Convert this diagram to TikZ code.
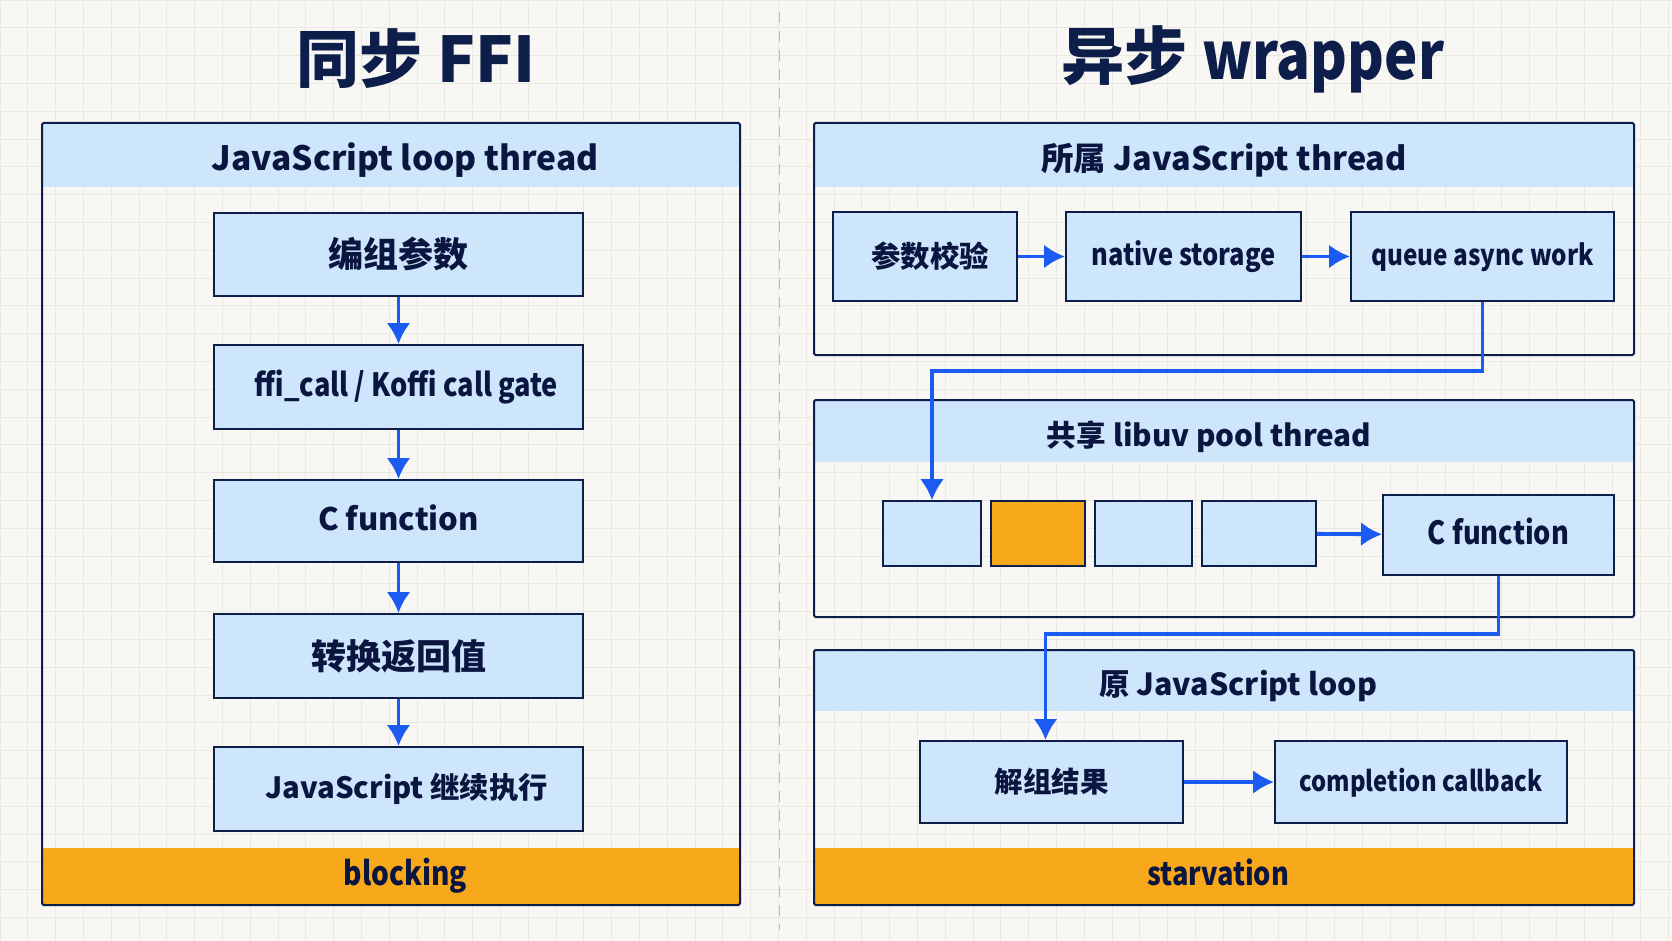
\documentclass[tikz,border=0pt]{standalone}
\usepackage{fontspec}
\setmainfont{Noto Sans CJK SC}
\newfontfamily\narrow{Noto Sans CJK SC}[FakeStretch=0.85]
\usetikzlibrary{positioning,arrows.meta,calc}

\definecolor{paper}{HTML}{F8F7F3}
\definecolor{gridc}{HTML}{EAE8E2}
\definecolor{navy}{HTML}{0E1E4A}
\definecolor{ink}{HTML}{0B1640}
\definecolor{pale}{HTML}{CDE6FB}
\definecolor{amber}{HTML}{F7A81B}
\definecolor{flowblue}{HTML}{1C5BF2}
\definecolor{divider}{HTML}{B4BECB}

% font size helper
\newcommand{\fs}[1]{\fontsize{#1}{#1}\selectfont}

\tikzset{
  panel/.style={draw=navy, line width=2pt, rounded corners=1.5pt},
  hdr/.style={fill=pale, inner sep=0pt, text=ink, text height=34pt, text depth=4pt,
    font=\bfseries\fs{31}},
  band/.style={fill=amber, inner sep=0pt, text=ink, text height=24pt, text depth=6pt,
    font=\bfseries\narrow\fs{32}},
  box/.style={draw=navy, line width=2pt, fill=pale, inner sep=0pt, text=ink,
    text height=24pt, text depth=6pt, font=\bfseries\fs{30}},
  cjkbox/.style={box, text height=33pt, font=\bfseries\fs{35}},
  qcell/.style={draw=navy, line width=1.6pt, fill=pale, inner sep=0pt},
  flow/.style={draw=flowblue, line width=3.8pt, -{Latex[length=21pt,width=24pt]}},
  title/.style={text=navy, font=\bfseries\fs{63}},
}

\begin{document}
\begin{tikzpicture}[x=1pt, y=-1pt]
  % canvas
  \fill[paper] (0,0) rectangle (1672,941);
  \useasboundingbox (0,0) rectangle (1672,941);
  \draw[gridc, line width=0.8pt, step=27.8pt] (0,0) grid (1672,941);
  \draw[divider, line width=1.4pt, dash pattern=on 11pt off 8pt] (779.5,12) -- (779.5,930);

  % titles
  \node[title] (ttl) at (416,59) {同步 FFI};
  \node[title] (ttr) at (1253,59) {异步 {\narrow\fs{66}wrapper}};

  % ---- left: synchronous FFI ----
  \node[hdr, minimum width=698, minimum height=64, anchor=north west, font=\bfseries\fs{33.5}] (lhdr) at (42,123) {\hspace*{28pt}JavaScript loop thread};
  \node[band, minimum width=698, minimum height=57, anchor=north west, font=\bfseries\narrow\fs{33}] (lband) at (42,848) {\hspace*{28pt}blocking};
  \draw[panel] (42,123) rectangle (740,905);

  \node[cjkbox, minimum width=369, minimum height=82] (marshal) at (398.5,254.5) {编组参数};
  \node[box, minimum width=369, minimum height=84, font=\bfseries\narrow\fs{32}] (gate) at (398.5,387) {\hspace*{16pt}ffi\_call / Koffi call gate};
  \node[box, minimum width=369, minimum height=82, font=\bfseries\fs{31}] (cfun) at (398.5,521) {C function};
  \node[cjkbox, minimum width=369, minimum height=84] (convert) at (398.5,656) {转换返回值};
  \node[box, minimum width=369, minimum height=84, font=\bfseries\fs{29.3}] (resume) at (398.5,789) {\hspace*{16pt}JavaScript 继续执行};

  \draw[flow] (marshal) -- (gate);
  \draw[flow] (gate) -- (cfun);
  \draw[flow] (cfun) -- (convert);
  \draw[flow] (convert) -- (resume);

  % ---- right: async wrapper ----
  % owning JS thread
  \node[hdr, minimum width=820, minimum height=64, anchor=north west, font=\bfseries\fs{32.4}] (rhdra) at (814,123) {所属 JavaScript thread};
  \draw[panel] (814,123) rectangle (1634,355);
  \node[box, minimum width=184, minimum height=89, text height=27pt, font=\bfseries\fs{29.4}] (check) at (925,256.5) {\hspace*{10pt}参数校验};
  \node[box, minimum width=235, minimum height=89, font=\bfseries\narrow\fs{30}] (store) at (1183.5,256.5) {native storage};
  \node[box, minimum width=263, minimum height=89, font=\bfseries\narrow\fs{28.6}] (queue) at (1482.5,256.5) {queue async work};
  \draw[flow] (check) -- (store);
  \draw[flow] (store) -- (queue);

  % shared libuv pool
  \node[hdr, minimum width=820, minimum height=62, anchor=north west, font=\bfseries\fs{29.7}] (rhdrb) at (814,400) {\hspace*{-30pt}共享 libuv pool thread};
  \draw[panel] (814,400) rectangle (1634,617);
  \node[qcell, minimum width=98, minimum height=65] (slot1) at (932,533.5) {};
  \node[qcell, fill=amber, minimum width=94, minimum height=65] (slot2) at (1038,533.5) {};
  \node[qcell, minimum width=97, minimum height=65] (slot3) at (1143.5,533.5) {};
  \node[qcell, minimum width=114, minimum height=65] (slot4) at (1259,533.5) {};
  \node[box, minimum width=231, minimum height=80, font=\bfseries\narrow\fs{32}] (work) at (1498.5,535) {C function};
  \draw[flow] (slot4) -- (work);

  % original JS loop
  \node[hdr, minimum width=820, minimum height=61, anchor=north west, font=\bfseries\fs{30.4}] (rhdrc) at (814,650) {\hspace*{28pt}原 JavaScript loop};
  \node[band, minimum width=820, minimum height=57, anchor=north west] (rband) at (814,848) {\hspace*{-12pt}starvation};
  \draw[panel] (814,650) rectangle (1634,905);
  \node[box, minimum width=263, minimum height=82, text height=27pt, font=\bfseries\fs{28.5}] (unpack) at (1051.5,782) {解组结果};
  \node[box, minimum width=292, minimum height=82, font=\bfseries\narrow\fs{28}] (done) at (1421,782) {completion callback};
  \draw[flow] (unpack) -- (done);

  % hand-offs between threads
  \draw[flow] (queue.south) -- ++(0,69) -| (slot1.north);
  \draw[flow] (work.south) -- ++(0,58) -| ([xshift=-6pt]unpack.north);
\end{tikzpicture}
\end{document}
